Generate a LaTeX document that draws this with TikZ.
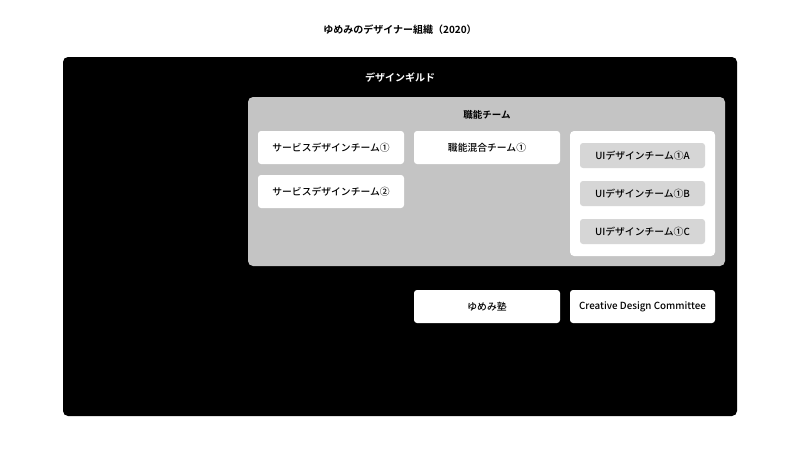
\documentclass[tikz,border=0pt]{standalone}
\usepackage{fontspec}
\setmainfont{Noto Sans CJK JP Medium}
\newfontfamily\boldjp{Noto Sans CJK JP Bold}
\definecolor{grayA}{HTML}{C4C4C4}
\definecolor{grayB}{HTML}{D6D6D6}
\tikzset{
  box/.style={rounded corners=3pt, inner sep=0pt, font=\fontsize{9.8}{11}\selectfont},
}
\begin{document}
\begin{tikzpicture}[x=1pt,y=-1pt]
\useasboundingbox (0,0) rectangle (800,450);
\fill[white] (0,0) rectangle (800,450);
\node[font=\boldjp\fontsize{10}{12}\selectfont] (title) at (400,30) {ゆめみのデザイナー組織（2020）};
\fill[black, rounded corners=5pt] (63,57) rectangle (737,416);
\node[font=\boldjp\fontsize{10}{12}\selectfont, text=white] (guild) at (400,78) {デザインギルド};
\fill[grayA, rounded corners=5pt] (248,97) rectangle (725,266);
\node[font=\boldjp\fontsize{9.5}{11}\selectfont] (shokuno) at (487,115) {職能チーム};
% white boxes
\fill[white, rounded corners=3pt] (258,131) rectangle (404,164);
\node[box] (sd1) at (331,148) {サービスデザインチーム①};
\fill[white, rounded corners=3pt] (258,175) rectangle (404,208);
\node[box] (sd2) at (331,192) {サービスデザインチーム②};
\fill[white, rounded corners=3pt] (414,131) rectangle (560,164);
\node[box] (mix) at (487,148) {職能混合チーム①};
\fill[white, rounded corners=4pt] (570,131) rectangle (715,256);
\fill[grayB, rounded corners=3pt] (580,143) rectangle (705,168);
\node[box] (uia) at (642.5,156) {UIデザインチーム①A};
\fill[grayB, rounded corners=3pt] (580,181) rectangle (705,206);
\node[box] (uib) at (642.5,194) {UIデザインチーム①B};
\fill[grayB, rounded corners=3pt] (580,219) rectangle (705,244);
\node[box] (uic) at (642.5,232) {UIデザインチーム①C};
\fill[white, rounded corners=3pt] (414,290) rectangle (560,323);
\node[box] (juku) at (487,307) {ゆめみ塾};
\fill[white, rounded corners=3pt] (570,290) rectangle (715,323);
\node[box] (cdc) at (642.5,307) {Creative Design Committee};
\end{tikzpicture}
\end{document}
